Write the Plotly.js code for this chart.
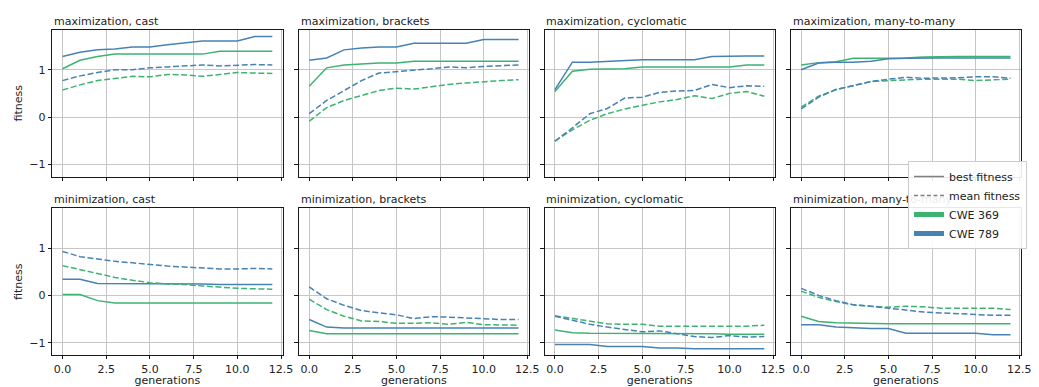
<!DOCTYPE html>
<html>
<head>
<meta charset="utf-8">
<script src="https://cdn.plot.ly/plotly-3.0.1.min.js"></script>
<style>html,body{margin:0;padding:0;background:#fff;}#chart{width:1039px;height:387px;}</style>
</head>
<body>
<div id="chart"></div>
<script>
const generations = [0, 1, 2, 3, 4, 5, 6, 7, 8, 9, 10, 11, 12];
const panelTitles = ["maximization, cast", "maximization, brackets", "maximization, cyclomatic", "maximization, many-to-many",
                     "minimization, cast", "minimization, brackets", "minimization, cyclomatic", "minimization, many-to-many"];
const seriesNames = ["CWE 369", "CWE 789"];
const legendKinds = ["best fitness", "mean fitness"];
const yTickVals = [-1, 0, 1];
const xTickVals = [0, 2.5, 5, 7.5, 10, 12.5];
const xTickText = ["0.0", "2.5", "5.0", "7.5", "10.0", "12.5"];

// maximization, cast
const maxCastBest369 = [1.02, 1.20, 1.28, 1.33, 1.33, 1.33, 1.33, 1.33, 1.33, 1.39, 1.39, 1.39, 1.39];
const maxCastBest789 = [1.28, 1.37, 1.42, 1.44, 1.48, 1.48, 1.53, 1.57, 1.61, 1.61, 1.61, 1.70, 1.70];
const maxCastMean369 = [0.57, 0.68, 0.77, 0.82, 0.86, 0.85, 0.90, 0.89, 0.86, 0.90, 0.94, 0.93, 0.92];
const maxCastMean789 = [0.77, 0.87, 0.94, 1.00, 1.00, 1.04, 1.06, 1.08, 1.10, 1.08, 1.10, 1.11, 1.10];
// maximization, brackets
const maxBracketsBest369 = [0.65, 1.04, 1.10, 1.12, 1.14, 1.14, 1.18, 1.18, 1.18, 1.18, 1.18, 1.18, 1.18];
const maxBracketsBest789 = [1.20, 1.25, 1.42, 1.46, 1.48, 1.48, 1.56, 1.56, 1.56, 1.56, 1.64, 1.64, 1.64];
const maxBracketsMean369 = [-0.09, 0.20, 0.35, 0.46, 0.56, 0.61, 0.59, 0.64, 0.69, 0.72, 0.75, 0.77, 0.79];
const maxBracketsMean789 = [0.07, 0.35, 0.56, 0.77, 0.93, 0.96, 0.98, 1.02, 1.06, 1.04, 1.07, 1.08, 1.10];
// maximization, cyclomatic
const maxCycloBest369 = [0.54, 0.97, 1.01, 1.02, 1.02, 1.06, 1.06, 1.06, 1.06, 1.06, 1.06, 1.10, 1.10];
const maxCycloBest789 = [0.58, 1.16, 1.16, 1.18, 1.20, 1.21, 1.21, 1.21, 1.21, 1.28, 1.29, 1.29, 1.29];
const maxCycloMean369 = [-0.51, -0.27, -0.07, 0.07, 0.17, 0.24, 0.32, 0.37, 0.45, 0.39, 0.50, 0.54, 0.44];
const maxCycloMean789 = [-0.51, -0.23, 0.07, 0.18, 0.40, 0.42, 0.52, 0.55, 0.56, 0.69, 0.62, 0.66, 0.65];
// maximization, many-to-many
const maxManyBest369 = [1.10, 1.15, 1.17, 1.24, 1.24, 1.24, 1.25, 1.27, 1.28, 1.28, 1.28, 1.28, 1.28];
const maxManyBest789 = [1.00, 1.14, 1.16, 1.16, 1.18, 1.23, 1.24, 1.25, 1.25, 1.25, 1.25, 1.25, 1.25];
const maxManyMean369 = [0.21, 0.44, 0.58, 0.67, 0.75, 0.77, 0.79, 0.80, 0.80, 0.80, 0.77, 0.79, 0.80];
const maxManyMean789 = [0.17, 0.42, 0.58, 0.67, 0.75, 0.80, 0.84, 0.82, 0.82, 0.83, 0.85, 0.85, 0.82];
// minimization, cast
const minCastBest369 = [0.02, 0.02, -0.11, -0.16, -0.16, -0.16, -0.16, -0.16, -0.16, -0.16, -0.16, -0.16, -0.16];
const minCastBest789 = [0.34, 0.34, 0.25, 0.25, 0.24, 0.24, 0.24, 0.24, 0.24, 0.23, 0.23, 0.23, 0.23];
const minCastMean369 = [0.63, 0.55, 0.47, 0.38, 0.32, 0.27, 0.24, 0.23, 0.20, 0.17, 0.15, 0.14, 0.13];
const minCastMean789 = [0.93, 0.82, 0.77, 0.72, 0.69, 0.65, 0.62, 0.60, 0.58, 0.56, 0.56, 0.57, 0.56];
// minimization, brackets
const minBracketsBest369 = [-0.74, -0.81, -0.81, -0.81, -0.81, -0.81, -0.81, -0.81, -0.81, -0.81, -0.81, -0.81, -0.81];
const minBracketsBest789 = [-0.51, -0.67, -0.69, -0.69, -0.69, -0.69, -0.69, -0.69, -0.69, -0.69, -0.69, -0.69, -0.69];
const minBracketsMean369 = [-0.08, -0.30, -0.44, -0.54, -0.55, -0.59, -0.59, -0.58, -0.61, -0.57, -0.62, -0.63, -0.63];
const minBracketsMean789 = [0.18, -0.07, -0.21, -0.32, -0.37, -0.41, -0.49, -0.45, -0.46, -0.48, -0.49, -0.51, -0.51];
// minimization, cyclomatic
const minCycloBest369 = [-0.73, -0.79, -0.80, -0.80, -0.80, -0.80, -0.80, -0.80, -0.81, -0.81, -0.82, -0.82, -0.82];
const minCycloBest789 = [-1.04, -1.04, -1.04, -1.08, -1.08, -1.08, -1.11, -1.11, -1.13, -1.13, -1.13, -1.13, -1.13];
const minCycloMean369 = [-0.43, -0.49, -0.54, -0.60, -0.61, -0.61, -0.65, -0.65, -0.65, -0.66, -0.66, -0.65, -0.63];
const minCycloMean789 = [-0.44, -0.53, -0.61, -0.67, -0.72, -0.77, -0.75, -0.81, -0.87, -0.89, -0.85, -0.88, -0.87];
// minimization, many-to-many
const minManyBest369 = [-0.44, -0.55, -0.58, -0.59, -0.60, -0.60, -0.60, -0.60, -0.60, -0.60, -0.60, -0.60, -0.60];
const minManyBest789 = [-0.62, -0.62, -0.67, -0.69, -0.70, -0.70, -0.80, -0.80, -0.80, -0.80, -0.80, -0.83, -0.83];
const minManyMean369 = [0.09, -0.04, -0.13, -0.20, -0.23, -0.25, -0.23, -0.24, -0.27, -0.27, -0.27, -0.27, -0.30];
const minManyMean789 = [0.15, 0.00, -0.11, -0.20, -0.23, -0.27, -0.32, -0.35, -0.37, -0.39, -0.41, -0.42, -0.42];

const panels = [
  [maxCastBest369, maxCastBest789, maxCastMean369, maxCastMean789],
  [maxBracketsBest369, maxBracketsBest789, maxBracketsMean369, maxBracketsMean789],
  [maxCycloBest369, maxCycloBest789, maxCycloMean369, maxCycloMean789],
  [maxManyBest369, maxManyBest789, maxManyMean369, maxManyMean789],
  [minCastBest369, minCastBest789, minCastMean369, minCastMean789],
  [minBracketsBest369, minBracketsBest789, minBracketsMean369, minBracketsMean789],
  [minCycloBest369, minCycloBest789, minCycloMean369, minCycloMean789],
  [minManyBest369, minManyBest789, minManyMean369, minManyMean789]
];

const GREEN = "#3cb371", BLUE = "#4682b4";
const DASH = "6px,2.6px";
const FONT = "DejaVu Sans, Liberation Sans, sans-serif";

// layout geometry (plot area 52..1026 x 30..355)
const W = 1039, H = 387, ML = 52, MR = 13, MT = 30, MB = 32;
const PW = W - ML - MR, PH = H - MT - MB;
const colPx = [[52, 284], [300, 531.5], [547, 778.5], [794.5, 1026]];
const rowPx = [[30, 176.6], [208.4, 355]];

const traces = [];
const layout = {
  width: W, height: H,
  margin: {l: ML, r: MR, t: MT, b: MB, pad: 0},
  paper_bgcolor: "#fff", plot_bgcolor: "#fff",
  font: {family: FONT, size: 11, color: "#222"},
  showlegend: true,
  legend: {
    x: (1032 - ML) / PW, y: (H - MB - 161) / PH, xanchor: "right", yanchor: "top",
    bgcolor: "rgba(255,255,255,0.9)", bordercolor: "#cccccc", borderwidth: 1,
    font: {family: FONT, size: 11, color: "#222"}, tracegroupgap: 0
  },
  annotations: []
};

panels.forEach((p, i) => {
  const k = i + 1;
  const row = Math.floor(i / 4), col = i % 4;
  const xa = "x" + (k === 1 ? "" : k), ya = "y" + (k === 1 ? "" : k);
  const styles = [
    {color: GREEN, dash: "solid"}, {color: BLUE, dash: "solid"},
    {color: GREEN, dash: DASH}, {color: BLUE, dash: DASH}
  ];
  p.forEach((vals, j) => {
    traces.push({
      type: "scatter", mode: "lines", x: generations, y: vals,
      xaxis: xa, yaxis: ya, showlegend: false, hoverinfo: "skip",
      line: {color: styles[j].color, width: 1.5, dash: styles[j].dash}
    });
  });
  const xd = [(colPx[col][0] - ML) / PW, (colPx[col][1] - ML) / PW];
  const yd = [(H - MB - rowPx[row][1]) / PH, (H - MB - rowPx[row][0]) / PH];
  const common = {
    showline: true, mirror: true, linecolor: "#000", linewidth: 0.9,
    ticks: "outside", ticklen: 3.5, tickwidth: 0.9, tickcolor: "#000",
    showgrid: true, gridcolor: "#c0c0c0", gridwidth: 0.9, zeroline: false,
    tickfont: {family: FONT, size: 11, color: "#222"}, fixedrange: true
  };
  layout["xaxis" + (k === 1 ? "" : k)] = Object.assign({}, common, {
    domain: xd, anchor: ya, range: [-0.6, 12.6],
    tickmode: "array", tickvals: xTickVals, ticktext: xTickText,
    showticklabels: row === 1,
    title: row === 1 ? {text: "generations", font: {family: FONT, size: 11, color: "#222"}, standoff: 5} : {text: ""}
  });
  layout["yaxis" + (k === 1 ? "" : k)] = Object.assign({}, common, {
    domain: yd, anchor: xa, range: [-1.26, 1.84],
    tickmode: "array", tickvals: yTickVals,
    showticklabels: col === 0,
    title: col === 0 ? {text: "fitness", font: {family: FONT, size: 11, color: "#222"}, standoff: 4} : {text: ""}
  });
  layout.annotations.push({
    text: panelTitles[i], xref: xa + " domain", yref: ya + " domain",
    x: 0, y: 1, xanchor: "left", yanchor: "bottom", yshift: 0, showarrow: false,
    font: {family: FONT, size: 11, color: "#222"}
  });
});

// legend entries
legendKinds.forEach((name, j) => {
  traces.push({type: "scatter", mode: "lines", x: [null], y: [null], name: name,
    line: {color: "#808080", width: 1.5, dash: j === 0 ? "solid" : "4px,2.5px"}, hoverinfo: "skip"});
});
seriesNames.forEach((name, j) => {
  traces.push({type: "scatter", mode: "lines", x: [null], y: [null], name: name,
    line: {color: j === 0 ? GREEN : BLUE, width: 5}, hoverinfo: "skip"});
});

Plotly.newPlot("chart", traces, layout, {staticPlot: true, displayModeBar: false}).then(function (gd) {
  // put the legend on top of the subplot titles, as in the original figure
  const leg = gd.querySelector("g.legend");
  const svgs = gd.querySelectorAll("svg.main-svg");
  if (leg && svgs.length) svgs[svgs.length - 1].appendChild(leg);
});
</script>
</body>
</html>
